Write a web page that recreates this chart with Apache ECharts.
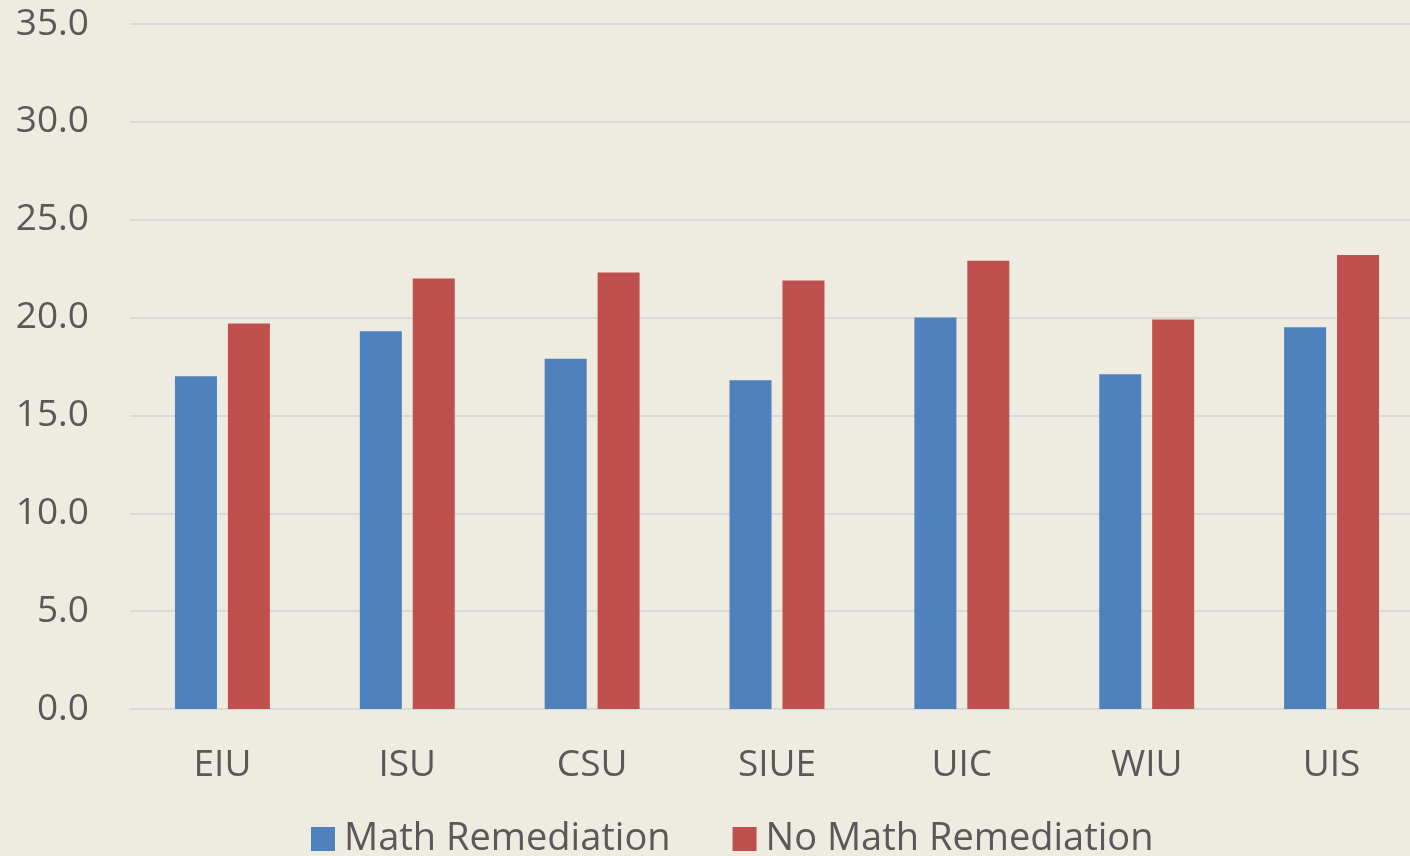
<!DOCTYPE html>
<html>
<head>
<meta charset="utf-8">
<script src="https://cdn.jsdelivr.net/npm/echarts@6/dist/echarts.min.js"></script>
<style>
html,body{margin:0;padding:0;background:#EEEBE0;overflow:hidden;width:1410px;height:856px;}
#chart{width:1424px;height:856px;}
</style>
</head>
<body>
<div id="chart"></div>
<script>
const categories = ['EIU', 'ISU', 'CSU', 'SIUE', 'UIC', 'WIU', 'UIS'];
const mathRemediation = [17.0, 19.3, 17.9, 16.8, 20.0, 17.1, 19.5];
const noMathRemediation = [19.7, 22.0, 22.3, 21.9, 22.9, 19.9, 23.2];
const seriesNames = ['Math Remediation', 'No Math Remediation'];

const font = '"Open Sans", sans-serif';
const chart = echarts.init(document.getElementById('chart'));
chart.setOption({
  backgroundColor: '#EEEBE0',
  animation: false,
  grid: { left: 130, top: 24, right: 0, height: 685 },
  legend: {
    left: 311, top: 820, padding: 0,
    itemWidth: 24, itemHeight: 24, itemGap: 62,
    icon: 'rect',
    textStyle: { fontFamily: font, fontSize: 38, color: '#595959', padding: [0, 0, 0, 4] },
    data: seriesNames
  },
  xAxis: {
    type: 'category', data: categories,
    axisLine: { lineStyle: { color: '#D9D9D9', width: 2 } },
    axisTick: { show: false },
    axisLabel: { fontFamily: font, fontSize: 37, color: '#595959', margin: 38 }
  },
  yAxis: {
    type: 'value', min: 0, max: 35, interval: 5,
    axisLine: { show: false }, axisTick: { show: false },
    splitLine: { lineStyle: { color: '#D9D9D9', width: 2 } },
    axisLabel: { fontFamily: font, fontSize: 37, color: '#595959', margin: 41,
      formatter: v => v.toFixed(1) }
  },
  series: [
    { name: seriesNames[0], type: 'bar', data: mathRemediation, barWidth: 42, barGap: '26%',
      itemStyle: { color: '#4F81BD' } },
    { name: seriesNames[1], type: 'bar', data: noMathRemediation, barWidth: 42, barGap: '26%',
      itemStyle: { color: '#C0504D' } }
  ]
});
</script>
</body>
</html>
